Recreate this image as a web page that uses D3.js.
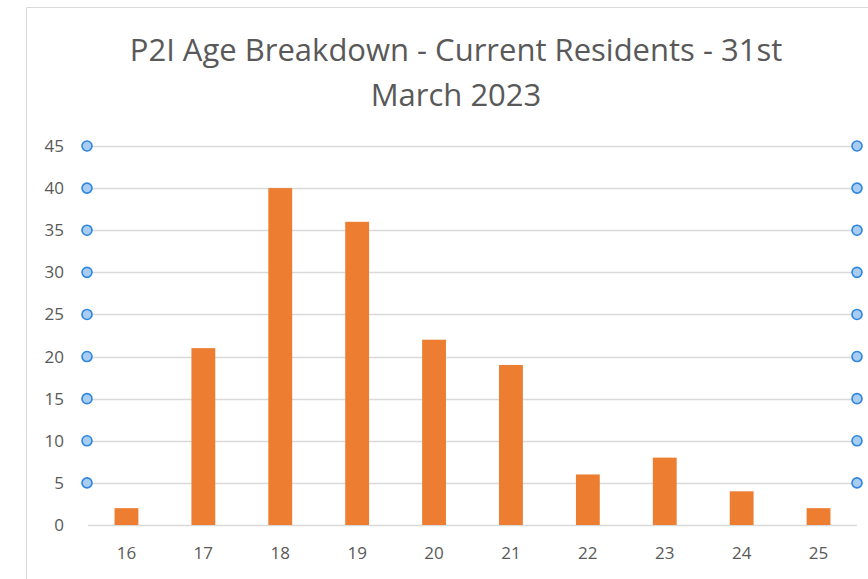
<!DOCTYPE html>
<head>
  <meta charset="utf-8">
  <style>
    body { margin: 0; background: #fff; }
    text { font-family: "Open Sans", "Liberation Sans", sans-serif; fill: #595959; }
  </style>
  <script src="https://cdn.jsdelivr.net/npm/d3@7/dist/d3.min.js"></script>
</head>
<body>
  <script>
    const ages = ['16', '17', '18', '19', '20', '21', '22', '23', '24', '25'];
    const residents = [2, 21, 40, 36, 22, 19, 6, 8, 4, 2];
    const yTicks = [0, 5, 10, 15, 20, 25, 30, 35, 40, 45];
    const titleLines = ['P2I Age Breakdown - Current Residents - 31st', 'March 2023'];

    const w = 868, h = 579;
    const plotL = 88, plotR = 857, plotT = 146, plotB = 525;

    const svg = d3.select('body').append('svg')
        .attr('width', w)
        .attr('height', h);

    // chart frame (cropped on right/bottom)
    svg.append('path')
      .attr('d', `M26.5,${h + 5}V7.5H${w + 5}`)
      .attr('fill', 'none')
      .attr('stroke', '#d9d9d9');

    const x = d3.scaleBand()
      .domain(ages)
      .range([plotL, plotR])
      .paddingInner(0.69)
      .paddingOuter(0.345);

    const y = d3.scaleLinear()
      .domain([0, 45])
      .range([plotB, plotT]);

    // gridlines
    svg.selectAll('.grid')
      .data(yTicks)
      .enter()
      .append('line')
      .attr('x1', plotL)
      .attr('x2', plotR)
      .attr('y1', d => Math.round(y(d)) + 0.5)
      .attr('y2', d => Math.round(y(d)) + 0.5)
      .attr('stroke', '#d9d9d9')
      .attr('stroke-width', 1.3);

    // bars
    svg.selectAll('.bar')
      .data(residents)
      .enter()
      .append('rect')
      .attr('x', (d, i) => x(ages[i]))
      .attr('y', d => y(d))
      .attr('width', x.bandwidth())
      .attr('height', d => plotB - y(d))
      .attr('fill', '#ed7d31');

    // y labels
    svg.selectAll('.ylab')
      .data(yTicks)
      .enter()
      .append('text')
      .text(d => d)
      .attr('x', 64)
      .attr('y', d => y(d))
      .attr('dy', '0.35em')
      .attr('text-anchor', 'end')
      .attr('font-size', '17px');

    // x labels
    svg.selectAll('.xlab')
      .data(ages)
      .enter()
      .append('text')
      .text(d => d)
      .attr('x', d => x(d) + x.bandwidth() / 2)
      .attr('y', 553)
      .attr('dy', '0.35em')
      .attr('text-anchor', 'middle')
      .attr('font-size', '17px');

    // gridline selection handles
    const handles = yTicks.filter(d => d > 0);
    [87, 857].forEach(cx => {
      svg.selectAll('.h' + cx)
        .data(handles)
        .enter()
        .append('circle')
        .attr('cx', cx)
        .attr('cy', d => y(d))
        .attr('r', 5)
        .attr('fill', '#a9cdf2')
        .attr('stroke', '#2e86de')
        .attr('stroke-width', 1.6);
    });

    // title
    svg.selectAll('.title')
      .data(titleLines)
      .enter()
      .append('text')
      .text(d => d)
      .attr('x', 456)
      .attr('y', (d, i) => 50 + i * 45)
      .attr('dy', '0.35em')
      .attr('text-anchor', 'middle')
      .attr('font-size', '31px');
  </script>
</body>
